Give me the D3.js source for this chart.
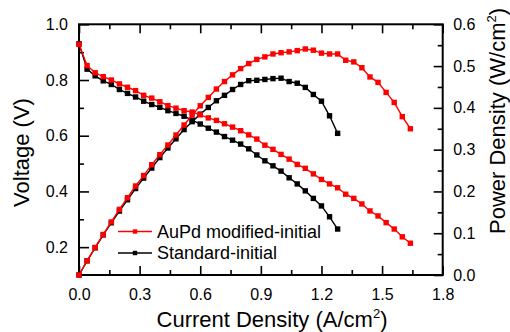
<!DOCTYPE html>
<html><head><meta charset="utf-8">
<script src="https://cdn.jsdelivr.net/npm/d3@7"></script>
<style>body{margin:0;background:#fff} text{font-family:"Liberation Sans",Arial,sans-serif;fill:#000}</style>
</head><body><svg id="c" width="510" height="332"></svg>
<script>
// ---- data ----
const currentRed = [0,0.04,0.08,0.12,0.16,0.20,0.24,0.28,0.32,0.36,0.40,0.44,0.48,0.52,0.56,0.60,0.64,0.68,0.72,0.76,0.80,0.84,0.88,0.92,0.96,1.00,1.04,1.08,1.12,1.16,1.20,1.24,1.28,1.32,1.36,1.40,1.44,1.48,1.52,1.56,1.60,1.64];
const voltageRed = [0.928,0.852,0.826,0.812,0.800,0.786,0.774,0.762,0.745,0.735,0.722,0.708,0.699,0.690,0.685,0.675,0.664,0.655,0.643,0.631,0.618,0.603,0.588,0.566,0.551,0.533,0.516,0.497,0.483,0.463,0.443,0.427,0.413,0.390,0.375,0.355,0.330,0.312,0.288,0.265,0.237,0.214];
const powerRed = [0,0.034,0.066,0.097,0.127,0.157,0.185,0.213,0.238,0.264,0.288,0.311,0.335,0.359,0.383,0.405,0.425,0.445,0.463,0.479,0.494,0.506,0.516,0.522,0.529,0.532,0.534,0.537,0.541,0.538,0.531,0.529,0.529,0.514,0.510,0.496,0.474,0.461,0.437,0.413,0.379,0.350];
const currentStd = [0,0.04,0.08,0.12,0.16,0.20,0.24,0.28,0.32,0.36,0.40,0.44,0.48,0.52,0.56,0.60,0.64,0.68,0.72,0.76,0.80,0.84,0.88,0.92,0.96,1.00,1.04,1.08,1.12,1.16,1.20,1.24,1.28];
const voltageStd = [0.930,0.839,0.815,0.797,0.784,0.766,0.752,0.739,0.724,0.712,0.702,0.690,0.680,0.670,0.656,0.642,0.627,0.613,0.597,0.584,0.570,0.553,0.531,0.510,0.492,0.473,0.449,0.427,0.402,0.375,0.348,0.309,0.265];
const powerStd = [0,0.034,0.065,0.096,0.125,0.153,0.180,0.207,0.232,0.256,0.281,0.304,0.326,0.348,0.367,0.385,0.401,0.417,0.430,0.444,0.456,0.465,0.466,0.468,0.470,0.471,0.463,0.459,0.449,0.432,0.416,0.381,0.339];
const seriesNames = ["AuPd modified-initial","Standard-initial"];
const seriesColors = ["#ff0000","#000000"];
const xTicks = [0,0.3,0.6,0.9,1.2,1.5,1.8];
const xMinorTicks = [0.15,0.45,0.75,1.05,1.35,1.65];
const yLeftTicks = [0.2,0.4,0.6,0.8,1.0];
const yLeftMinorTicks = [0.3,0.5,0.7,0.9];
const yRightTicks = [0,0.1,0.2,0.3,0.4,0.5,0.6];
const yRightMinorTicks = [0.05,0.15,0.25,0.35,0.45,0.55];

// ---- layout ----
const L=79, R=442.7, T=24.3, B=275;
const svg = d3.select("#c");
const x = d3.scaleLinear([0,1.8],[L,R]);
const yL = d3.scaleLinear([0.1,1.0],[B,T]);
const yR = d3.scaleLinear([0,0.6],[B,T]);
const fmt1 = d3.format(".1f");

function axisGroup(axis, tx, ty){
  const g = svg.append("g").attr("transform",`translate(${tx},${ty})`).call(axis);
  g.select(".domain").remove();
  g.selectAll(".tick line").attr("stroke","#000").attr("stroke-width",1.6);
  g.selectAll(".tick text").style("font-size","16px").attr("fill","#000");
  return g;
}
// bottom
axisGroup(d3.axisBottom(x).tickValues(xTicks).tickFormat(fmt1).tickSize(-9).tickPadding(14),0,B);
axisGroup(d3.axisBottom(x).tickValues(xMinorTicks).tickFormat("").tickSize(-5),0,B);
// top
axisGroup(d3.axisTop(x).tickValues(xTicks).tickFormat("").tickSize(-9),0,T);
axisGroup(d3.axisTop(x).tickValues(xMinorTicks).tickFormat("").tickSize(-5),0,T);
// left
axisGroup(d3.axisLeft(yL).tickValues(yLeftTicks).tickFormat(fmt1).tickSize(-10).tickPadding(11),L,0);
axisGroup(d3.axisLeft(yL).tickValues(yLeftMinorTicks).tickFormat("").tickSize(-5),L,0);
// right
axisGroup(d3.axisRight(yR).tickValues(yRightTicks).tickFormat(fmt1).tickSize(-9).tickPadding(10.5),R,0);
axisGroup(d3.axisRight(yR).tickValues(yRightMinorTicks).tickFormat("").tickSize(-5),R,0);

// frame
svg.append("rect").attr("x",L).attr("y",T).attr("width",R-L).attr("height",B-T)
  .attr("fill","none").attr("stroke","#000").attr("stroke-width",2);

// ---- series ----
const series = [
  {name:seriesNames[1], color:seriesColors[1], I:currentStd, V:voltageStd, P:powerStd},
  {name:seriesNames[0], color:seriesColors[0], I:currentRed, V:voltageRed, P:powerRed}
];
const plot = svg.append("g");
series.forEach(s=>{
  const vPts = s.I.map((c,i)=>[x(c), yL(s.V[i])]);
  const pPts = s.I.map((c,i)=>[x(c), yR(s.P[i])]);
  [vPts,pPts].forEach(pts=>{
    plot.append("path").attr("d",d3.line()(pts)).attr("fill","none")
      .attr("stroke",s.color).attr("stroke-width",1.4);
    plot.selectAll(null).data(pts).enter().append("rect")
      .attr("x",d=>d[0]-2.7).attr("y",d=>d[1]-2.7).attr("width",5.4).attr("height",5.4)
      .attr("fill",s.color);
  });
});

// ---- legend ----
const leg = svg.append("g");
[[seriesNames[0],seriesColors[0],231.5],[seriesNames[1],seriesColors[1],253]].forEach(([n,c,ly])=>{
  leg.append("line").attr("x1",118).attr("x2",152).attr("y1",ly).attr("y2",ly)
    .attr("stroke",c).attr("stroke-width",1.4);
  leg.append("rect").attr("x",135-2.2).attr("y",ly-2.2).attr("width",4.4).attr("height",4.4).attr("fill",c);
  leg.append("text").attr("x",157).attr("y",ly+6.4).style("font-size","18px").text(n);
});

// ---- axis titles ----
const xt = svg.append("text").attr("x",272).attr("y",327).attr("text-anchor","middle").style("font-size","22px");
xt.append("tspan").text("Current Density (A/cm");
xt.append("tspan").attr("dy",-9).style("font-size","13px").text("2");
xt.append("tspan").attr("dy",9).text(")");

svg.append("text").attr("transform","translate(29,152.5) rotate(-90)").attr("text-anchor","middle")
  .style("font-size","22px").text("Voltage (V)");

const rt = svg.append("text").attr("transform","translate(505,121) rotate(-90)").attr("text-anchor","middle").style("font-size","22px");
rt.append("tspan").text("Power Density (W/cm");
rt.append("tspan").attr("dy",-9).style("font-size","13px").text("2");
rt.append("tspan").attr("dy",9).text(")");
</script>
</body></html>
